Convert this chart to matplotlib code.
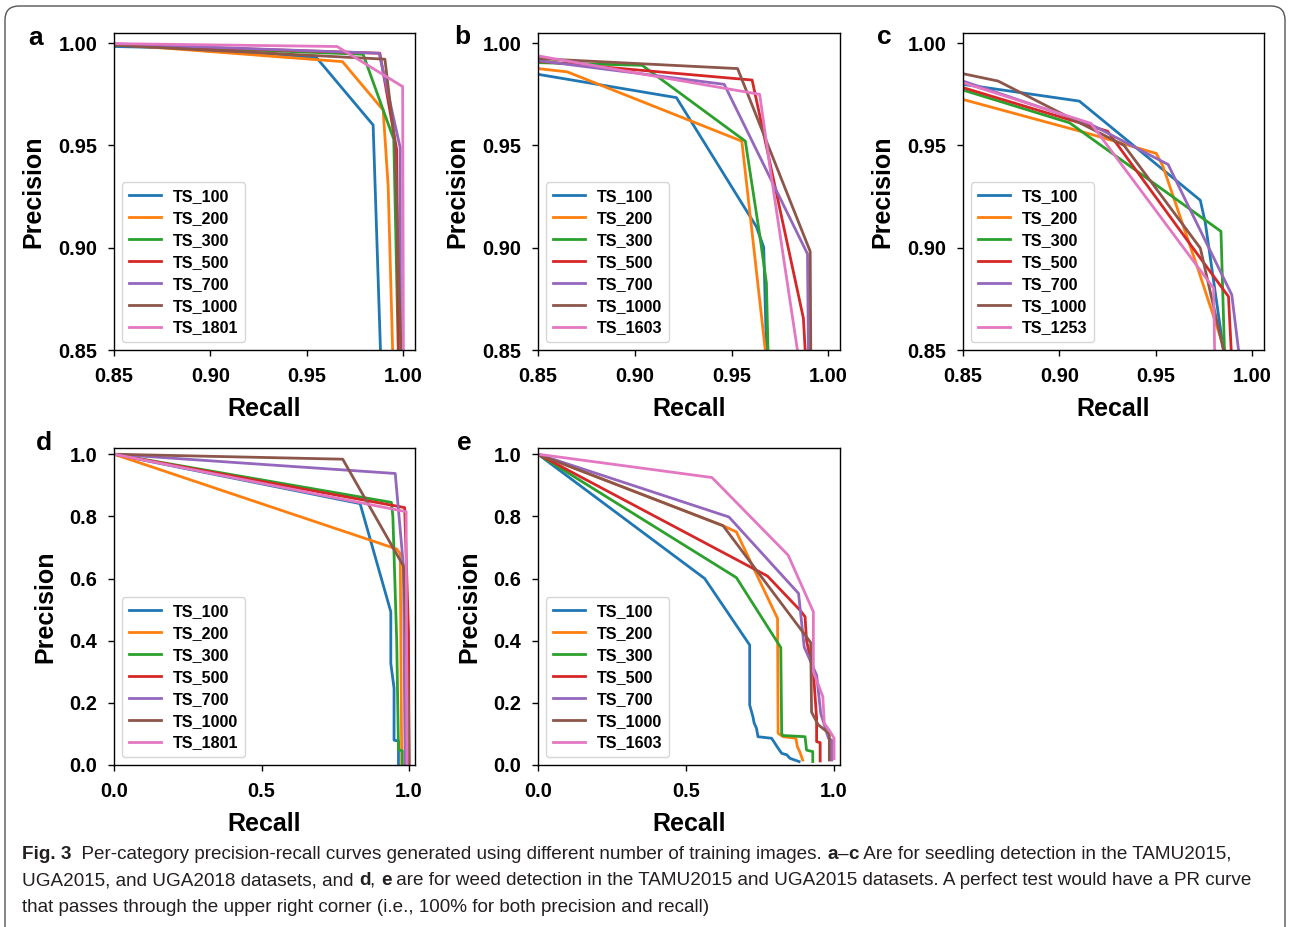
import matplotlib
matplotlib.use("Agg")
import matplotlib.pyplot as plt
from matplotlib.patches import FancyBboxPatch
from matplotlib.transforms import IdentityTransform

plt.rcParams['font.family'] = ['Liberation Sans', 'DejaVu Sans']
plt.rcParams['font.weight'] = 'bold'

COLORS = ['#1f77b4', '#ff7f0e', '#2ca02c', '#d62728', '#9467bd', '#8c564b', '#e377c2']

# ---- panel a: seedlings, TAMU2015 ----
a_labels = ['TS_100', 'TS_200', 'TS_300', 'TS_500', 'TS_700', 'TS_1000', 'TS_1801']
a_recall = [
    [0.85, 0.8978, 0.9549, 0.9843, 0.9881],
    [0.85, 0.9684, 0.9895, 0.9921, 0.9944],
    [0.85, 0.9791, 0.9950, 0.9973],
    [0.85, 0.9878, 0.9965, 0.9975],
    [0.85, 0.9874, 0.9983, 0.9985],
    [0.85, 0.9904, 0.9956, 0.9987],
    [0.85, 0.9656, 0.9996, 1.0],
]
a_precision = [
    [0.9984, 0.9974, 0.9930, 0.9600, 0.85],
    [0.9995, 0.9910, 0.9673, 0.9300, 0.85],
    [0.9992, 0.9946, 0.9530, 0.85],
    [0.9993, 0.9951, 0.9480, 0.85],
    [0.9997, 0.9951, 0.9490, 0.85],
    [0.9990, 0.9922, 0.9510, 0.85],
    [0.9998, 0.9984, 0.9788, 0.85],
]

# ---- panel b: seedlings, UGA2015 ----
b_labels = ['TS_100', 'TS_200', 'TS_300', 'TS_500', 'TS_700', 'TS_1000', 'TS_1603']
b_recall = [
    [0.85, 0.9215, 0.9628, 0.9666, 0.968],
    [0.85, 0.8651, 0.9553, 0.9674],
    [0.85, 0.9038, 0.9571, 0.9645, 0.968, 0.9688],
    [0.85, 0.9606, 0.9871, 0.988],
    [0.85, 0.9462, 0.9892, 0.9897],
    [0.85, 0.9531, 0.9906, 0.9909],
    [0.85, 0.9645, 0.970, 0.984],
]
b_precision = [
    [0.9848, 0.9734, 0.9103, 0.9002, 0.85],
    [0.9876, 0.986, 0.9521, 0.85],
    [0.9905, 0.9892, 0.9521, 0.9064, 0.8827, 0.85],
    [0.9912, 0.982, 0.8655, 0.85],
    [0.9915, 0.9799, 0.897, 0.85],
    [0.9925, 0.9876, 0.8982, 0.85],
    [0.9938, 0.975, 0.9382, 0.85],
]

# ---- panel c: seedlings, UGA2018 ----
c_labels = ['TS_100', 'TS_200', 'TS_300', 'TS_500', 'TS_700', 'TS_1000', 'TS_1253']
c_recall = [
    [0.85, 0.9103, 0.973, 0.9756, 0.985],
    [0.85, 0.9137, 0.9502, 0.9536, 0.972, 0.9856],
    [0.85, 0.9052, 0.9837, 0.9855],
    [0.85, 0.9249, 0.9876, 0.989],
    [0.85, 0.9163, 0.9563, 0.9893, 0.9928],
    [0.85, 0.8682, 0.9335, 0.973, 0.985],
    [0.85, 0.9163, 0.9799, 0.9804],
]
c_precision = [
    [0.9799, 0.9717, 0.9232, 0.9121, 0.85],
    [0.9725, 0.9562, 0.9461, 0.9399, 0.889, 0.85],
    [0.9771, 0.9611, 0.908, 0.85],
    [0.9783, 0.957, 0.8761, 0.85],
    [0.9815, 0.9603, 0.9407, 0.877, 0.85],
    [0.9851, 0.9815, 0.95, 0.8998, 0.85],
    [0.9807, 0.9608, 0.8802, 0.85],
]

# ---- panel d: weeds, TAMU2015 ----
d_labels = ['TS_100', 'TS_200', 'TS_300', 'TS_500', 'TS_700', 'TS_1000', 'TS_1801']
d_recall = [
    [0.0, 0.834, 0.938, 0.938, 0.949, 0.949, 0.964, 0.964],
    [0.0, 0.958, 0.970, 0.975],
    [0.0, 0.940, 0.945, 0.958, 0.964, 0.977, 0.977],
    [0.0, 0.975, 0.985, 0.998, 1.0],
    [0.0, 0.953, 0.981, 0.986, 0.986],
    [0.0, 0.775, 0.981, 0.998, 1.0],
    [0.0, 0.990, 0.993],
]
d_precision = [
    [1.0, 0.841, 0.493, 0.327, 0.247, 0.080, 0.077, 0.0],
    [1.0, 0.695, 0.680, 0.0],
    [1.0, 0.845, 0.800, 0.400, 0.050, 0.045, 0.0],
    [1.0, 0.830, 0.828, 0.430, 0.0],
    [1.0, 0.938, 0.638, 0.050, 0.0],
    [1.0, 0.984, 0.640, 0.200, 0.0],
    [1.0, 0.815, 0.0],
]

# ---- panel e: weeds, UGA2015 ----
e_labels = ['TS_100', 'TS_200', 'TS_300', 'TS_500', 'TS_700', 'TS_1000', 'TS_1603']
e_recall = [
    [0.0, 0.563, 0.715, 0.715, 0.726, 0.730, 0.738, 0.743, 0.789, 0.800, 0.811, 0.823, 0.840, 0.851, 0.882],
    [0.0, 0.625, 0.670, 0.809, 0.811, 0.828, 0.871, 0.876, 0.884, 0.894],
    [0.0, 0.670, 0.820, 0.823, 0.826, 0.902, 0.907, 0.928, 0.928],
    [0.0, 0.775, 0.885, 0.902, 0.907, 0.930, 0.941, 0.941, 0.953, 0.953],
    [0.0, 0.645, 0.880, 0.899, 0.941, 0.955, 0.970, 0.981, 0.992, 0.992],
    [0.0, 0.625, 0.921, 0.924, 0.946, 0.972, 0.984, 0.984],
    [0.0, 0.5876, 0.845, 0.930, 0.930, 0.962, 0.967, 0.985, 1.0, 1.0],
]
e_precision = [
    [1.0, 0.600, 0.386, 0.193, 0.155, 0.135, 0.118, 0.091, 0.086, 0.070, 0.054, 0.0375, 0.033, 0.0215, 0.011],
    [1.0, 0.770, 0.750, 0.4716, 0.102, 0.091, 0.086, 0.059, 0.043, 0.016],
    [1.0, 0.603, 0.378, 0.102, 0.095, 0.091, 0.048, 0.043, 0.011],
    [1.0, 0.608, 0.498, 0.477, 0.400, 0.300, 0.150, 0.075, 0.072, 0.013],
    [1.0, 0.798, 0.552, 0.380, 0.289, 0.166, 0.120, 0.086, 0.080, 0.016],
    [1.0, 0.770, 0.394, 0.170, 0.130, 0.110, 0.100, 0.016],
    [1.0, 0.925, 0.675, 0.493, 0.300, 0.220, 0.134, 0.110, 0.086, 0.020],
]

W, H = 1290, 927
fig = plt.figure(figsize=(W / 100, H / 100), dpi=100)


def make_axes(left, top, right, bottom):
    return fig.add_axes([left / W, 1 - bottom / H, (right - left) / W, (bottom - top) / H])


def draw_panel(ax, recall, precision, labels, lims, ticks, ticklabels):
    for i in range(len(labels)):
        ax.plot(recall[i], precision[i], color=COLORS[i], lw=2.0, label=labels[i])
    ax.set_xlim(lims[0], lims[1])
    ax.set_ylim(lims[2], lims[3])
    ax.set_xticks(ticks)
    ax.set_xticklabels(ticklabels)
    ax.set_yticks(ticks)
    ax.set_yticklabels(ticklabels)
    ax.tick_params(direction='out', length=4.5, width=1.0, labelsize=14.3, pad=7.5)
    for s in ax.spines.values():
        s.set_linewidth(1.0)
    ax.set_xlabel('Recall', fontsize=18, fontweight='bold', labelpad=8)
    ax.set_ylabel('Precision', fontsize=18, fontweight='bold', labelpad=9)
    leg = ax.legend(loc='lower left', fontsize=11.6, handlelength=2.0, handletextpad=0.75,
                    borderaxespad=0.5, labelspacing=0.43)
    for t in leg.get_texts():
        t.set_fontweight('bold')


zoom_ticks = [0.85, 0.90, 0.95, 1.00]
zoom_tl = ['0.85', '0.90', '0.95', '1.00']
full_ticks = [0.0, 0.2, 0.4, 0.6, 0.8, 1.0]
full_tl = ['0.0', '0.2', '0.4', '0.6', '0.8', '1.0']

ax_a = make_axes(114, 33, 415, 350)
ax_b = make_axes(538, 33, 840, 350)
ax_c = make_axes(963, 33, 1264, 350)
ax_d = make_axes(114, 448, 415, 765)
ax_e = make_axes(538, 448, 840, 765)

draw_panel(ax_a, a_recall, a_precision, a_labels, (0.85, 1.006, 0.85, 1.005), zoom_ticks, zoom_tl)
draw_panel(ax_b, b_recall, b_precision, b_labels, (0.85, 1.006, 0.85, 1.005), zoom_ticks, zoom_tl)
draw_panel(ax_c, c_recall, c_precision, c_labels, (0.85, 1.006, 0.85, 1.005), zoom_ticks, zoom_tl)
draw_panel(ax_d, d_recall, d_precision, d_labels, (0.0, 1.02, 0.0, 1.02), full_ticks, full_tl)
draw_panel(ax_e, e_recall, e_precision, e_labels, (0.0, 1.02, 0.0, 1.02), full_ticks, full_tl)
for ax in (ax_d, ax_e):
    ax.set_xticks([0.0, 0.5, 1.0])
    ax.set_xticklabels(['0.0', '0.5', '1.0'])

# panel letters
for letter, x, y in [('a', 36, 38), ('b', 462, 37), ('c', 884, 37), ('d', 44, 443), ('e', 464, 443)]:
    fig.text(x / W, 1 - y / H, letter, fontsize=19, fontweight='bold', ha='center', va='center')

# rounded frame around the figure (bottom edge runs off the image)
frame = FancyBboxPatch((5, -20), W - 10, H - 6 + 20, boxstyle='round,pad=0,rounding_size=14',
                       transform=IdentityTransform(), fill=False, edgecolor='#555555', lw=1.0)
fig.patches.append(frame)

# caption
cap_font = ['Liberation Sans Narrow', 'Liberation Sans', 'DejaVu Sans']
cap_size = 13.6
cap_lines = [
    (859, [('Fig. 3', 'bold'), ('  Per-category precision-recall curves generated using different number of training images. ', 'normal'),
           ('a', 'bold'), ('–', 'normal'), ('c', 'bold'), (' Are for seedling detection in the TAMU2015,', 'normal')]),
    (885, [('UGA2015, and UGA2018 datasets, and ', 'normal'), ('d', 'bold'), (', ', 'normal'), ('e', 'bold'),
           (' are for weed detection in the TAMU2015 and UGA2015 datasets. A perfect test would have a PR curve', 'normal')]),
    (912, [('that passes through the upper right corner (i.e., 100% for both precision and recall)', 'normal')]),
]
renderer = fig.canvas.get_renderer()
for ypix, runs in cap_lines:
    x = 22
    for txt, wt in runs:
        t = fig.text(x / W, 1 - ypix / H, txt, fontsize=cap_size, fontweight=wt, family=cap_font,
                     color='#231f20', ha='left', va='baseline')
        x += t.get_window_extent(renderer).width

fig.savefig('out.png', dpi=100)
